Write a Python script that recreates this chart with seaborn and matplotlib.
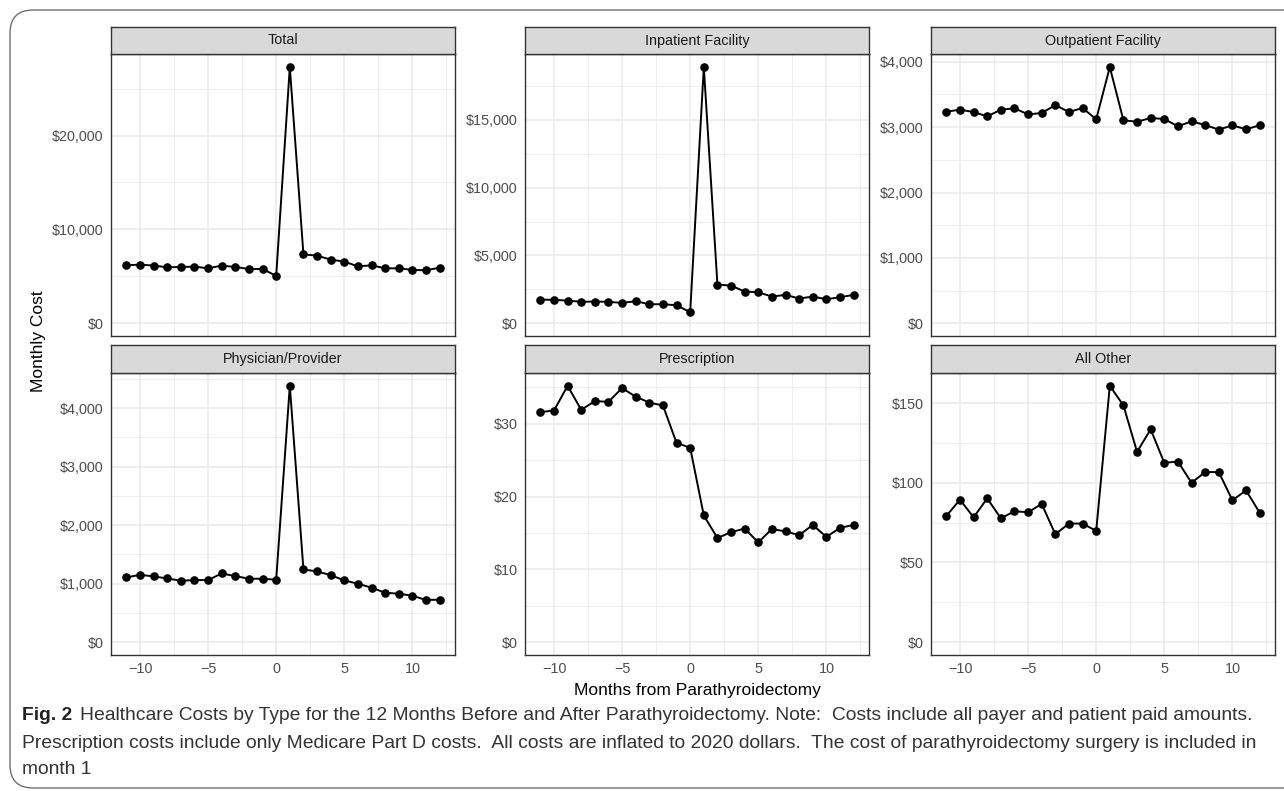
import matplotlib
matplotlib.use("Agg")
import matplotlib.pyplot as plt
import matplotlib.ticker as mticker
from matplotlib.patches import FancyBboxPatch
import pandas as pd
import seaborn as sns

sns.set_theme(style="white")
plt.rcParams['font.family'] = ['Liberation Sans', 'DejaVu Sans']

# ----------------------------
# Data
# ----------------------------
months = list(range(-11, 13))

total = [6170, 6245, 6140, 5960, 5990, 6030, 5850, 6140, 5990, 5780, 5780, 5040,
         27300, 7340, 7200, 6780, 6560, 6060, 6170, 5850, 5850, 5680, 5640, 5920]
inpatient = [1745, 1720, 1670, 1575, 1600, 1575, 1500, 1620, 1400, 1400, 1325, 810,
             18900, 2850, 2775, 2335, 2285, 1965, 2090, 1820, 1965, 1770, 1915, 2090]
outpatient = [3237, 3267, 3232, 3165, 3267, 3288, 3196, 3216, 3338, 3232, 3293, 3120,
              3919, 3104, 3084, 3140, 3125, 3013, 3089, 3033, 2962, 3028, 2967, 3028]
physician = [1106, 1152, 1123, 1089, 1050, 1061, 1061, 1174, 1129, 1084, 1084, 1067,
             4380, 1243, 1209, 1146, 1055, 999, 931, 845, 828, 794, 721, 726]
prescription = [31.6, 31.8, 35.2, 31.9, 33.1, 33.0, 34.9, 33.7, 32.9, 32.5, 27.35, 26.7,
                17.4, 14.3, 15.1, 15.6, 13.7, 15.55, 15.2, 14.7, 16.1, 14.45, 15.7, 16.1]
all_other = [79.2, 89.4, 78.3, 90.2, 77.7, 82.1, 81.5, 86.7, 67.7, 74.4, 74.4, 69.8,
             160.8, 148.5, 119.4, 133.5, 112.5, 113.3, 100.0, 106.7, 106.7, 89.0, 95.2, 81.25]

panel_names = ["Total", "Inpatient Facility", "Outpatient Facility",
               "Physician/Provider", "Prescription", "All Other"]
panel_values = [total, inpatient, outpatient, physician, prescription, all_other]
y_major = [[0, 10000, 20000], [0, 5000, 10000, 15000], [0, 1000, 2000, 3000, 4000],
           [0, 1000, 2000, 3000, 4000], [0, 10, 20, 30], [0, 50, 100, 150]]
y_minor = [[5000, 15000, 25000], [2500, 7500, 12500, 17500], [500, 1500, 2500, 3500],
           [500, 1500, 2500, 3500, 4500], [5, 15, 25, 35], [25, 75, 125]]
x_major = [-10, -5, 0, 5, 10]
x_minor = [-7.5, -2.5, 2.5, 7.5, 12.5]

caption_bold = "Fig. 2"
caption_lines = [
    "Healthcare Costs by Type for the 12 Months Before and After Parathyroidectomy. Note:  Costs include all payer and patient paid amounts.",
    "Prescription costs include only Medicare Part D costs.  All costs are inflated to 2020 dollars.  The cost of parathyroidectomy surgery is included in",
    "month 1",
]

df = pd.concat([pd.DataFrame({"month": months, "cost": v, "type": n})
                for n, v in zip(panel_names, panel_values)])

# ----------------------------
# Layout (pixels)
# ----------------------------
W, H = 1284, 791
fig = plt.figure(figsize=(W / 100, H / 100), dpi=100)
fig.patch.set_facecolor("white")

col_x = [(110.7, 455.3), (524.7, 869.3), (930.7, 1275.3)]
rows = [(26.7, 54.3, 336.0), (345.3, 373.0, 655.0)]

def fig_box(x0, y0, x1, y1):
    return [x0 / W, (H - y1) / H, (x1 - x0) / W, (y1 - y0) / H]

# rounded frame around the figure
frame = FancyBboxPatch((10 / W, 3 / H), 1300 / W, 778 / H,
                       boxstyle="round,pad=0,rounding_size=0.018",
                       transform=fig.transFigure, fill=False,
                       edgecolor="#6e6e6e", linewidth=1.0, mutation_aspect=W / H)
fig.patches.append(frame)

border = "#333333"
grid_col = "#EBEBEB"
tick_col = "#4D4D4D"

for i, name in enumerate(panel_names):
    r, c = divmod(i, 3)
    x0, x1 = col_x[c]
    st, sb, pb = rows[r]
    ax = fig.add_axes(fig_box(x0, sb, x1, pb))
    sub = df[df["type"] == name]
    sns.lineplot(data=sub, x="month", y="cost", ax=ax, color="black",
                 linewidth=1.4, marker="o", markersize=6.2, markeredgewidth=0,
                 zorder=3)
    vals = panel_values[i]
    ymax = max(vals)
    ax.set_ylim(-0.05 * ymax, 1.05 * ymax)
    ax.set_xlim(-12.15, 13.15)

    ax.set_yticks(y_major[i])
    ax.set_yticks(y_minor[i], minor=True)
    ax.set_xticks(x_major)
    ax.set_xticks(x_minor, minor=True)
    ax.yaxis.set_major_formatter(mticker.FuncFormatter(lambda v, p: f"${v:,.0f}"))
    ax.grid(which="major", color=grid_col, linewidth=1.2, zorder=0)
    ax.grid(which="minor", color=grid_col, linewidth=0.6, zorder=0)
    ax.set_axisbelow(True)
    ax.tick_params(axis="both", which="major", length=3, width=0.8, color=border,
                   labelcolor=tick_col, labelsize=10.4, pad=2)
    ax.tick_params(axis="both", which="minor", length=0)
    if r == 0:
        ax.tick_params(axis="x", which="major", length=0, labelbottom=False)
    for s in ax.spines.values():
        s.set_edgecolor(border)
        s.set_linewidth(1.0)
    ax.set_xlabel("")
    ax.set_ylabel("")

    # facet strip
    sax = fig.add_axes(fig_box(x0, st, x1, sb))
    sax.set_facecolor("#D9D9D9")
    sax.set_xticks([])
    sax.set_yticks([])
    for s in sax.spines.values():
        s.set_edgecolor(border)
        s.set_linewidth(1.0)
    sax.text(0.5, 0.5, name, ha="center", va="center", fontsize=10.4,
             color="#1A1A1A", transform=sax.transAxes)

# axis titles
fig.text((524.7 + 869.3) / 2 / W, 1 - 690 / H, "Months from Parathyroidectomy",
         ha="center", va="center", fontsize=12.5, color="black")
fig.text(38 / W, 1 - 341 / H, "Monthly Cost", ha="center", va="center",
         rotation=90, fontsize=12.5, color="black")

# caption: size chosen so the second line ends where it does in the original
renderer = fig.canvas.get_renderer()
probe = fig.text(0, 0, caption_lines[1], fontsize=10)
pw = probe.get_window_extent(renderer).width
probe.remove()
fs = 10 * (1262 - 22) / pw

bold = fig.text(22 / W, 1 - 715 / H, caption_bold, ha="left", va="center",
                fontsize=fs, fontweight="bold", color="#222222")
bb = bold.get_window_extent(renderer)
fig.text((bb.x1 + 8) / W, 1 - 715 / H, caption_lines[0], ha="left", va="center",
         fontsize=fs, color="#333333")
fig.text(22 / W, 1 - 743 / H, caption_lines[1], ha="left", va="center",
         fontsize=fs, color="#333333")
fig.text(22 / W, 1 - 770 / H, caption_lines[2], ha="left", va="center",
         fontsize=fs, color="#333333")

fig.savefig("out.png", dpi=100, facecolor="white")
